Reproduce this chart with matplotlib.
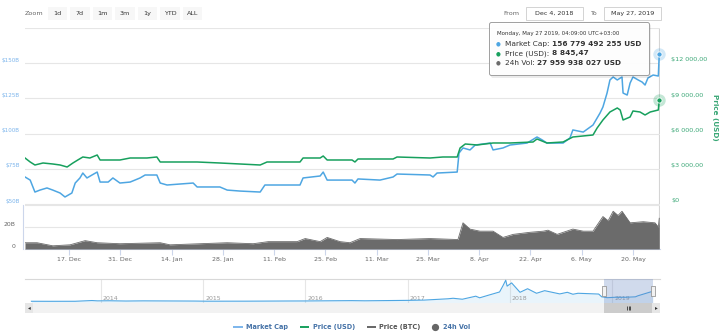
import matplotlib
matplotlib.use("Agg")
import matplotlib.pyplot as plt
import matplotlib.transforms as mtransforms
from matplotlib.patches import Rectangle, FancyBboxPatch
import pandas as pd

# market cap, billions USD
cap_dates = [
    "2018-12-05 00:00", "2018-12-06 10:00", "2018-12-07 17:00", "2018-12-09 02:00", "2018-12-11 00:00",
    "2018-12-12 14:00", "2018-12-14 14:00", "2018-12-15 22:00", "2018-12-17 19:00", "2018-12-18 17:00",
    "2018-12-20 00:00", "2018-12-20 19:00", "2018-12-21 22:00", "2018-12-23 07:00", "2018-12-24 17:00",
    "2018-12-25 12:00", "2018-12-27 17:00", "2018-12-29 00:00", "2018-12-30 22:00", "2019-01-02 17:00",
    "2019-01-05 10:00", "2019-01-06 19:00", "2019-01-10 00:00", "2019-01-10 22:00", "2019-01-12 19:00",
    "2019-01-16 07:00", "2019-01-19 22:00", "2019-01-21 00:00", "2019-01-27 05:00", "2019-01-29 05:00",
    "2019-02-01 17:00", "2019-02-07 05:00", "2019-02-08 12:00", "2019-02-18 02:00", "2019-02-18 22:00",
    "2019-02-23 14:00", "2019-02-24 10:00", "2019-02-25 12:00", "2019-03-04 07:00", "2019-03-05 02:00",
    "2019-03-05 22:00", "2019-03-11 22:00", "2019-03-15 12:00", "2019-03-16 14:00", "2019-03-25 14:00",
    "2019-03-26 10:00", "2019-03-27 12:00", "2019-04-02 00:00", "2019-04-02 12:00", "2019-04-03 14:00",
    "2019-04-05 12:00", "2019-04-06 22:00", "2019-04-11 00:00", "2019-04-11 19:00", "2019-04-14 12:00",
    "2019-04-16 10:00", "2019-04-21 02:00", "2019-04-23 19:00", "2019-04-25 05:00", "2019-04-26 12:00",
    "2019-04-30 22:00", "2019-05-02 19:00", "2019-05-03 14:00", "2019-05-06 10:00", "2019-05-09 02:00",
    "2019-05-11 00:00", "2019-05-11 19:00", "2019-05-12 22:00", "2019-05-13 17:00", "2019-05-14 14:00",
    "2019-05-15 17:00", "2019-05-17 00:00", "2019-05-17 07:00", "2019-05-18 10:00", "2019-05-19 05:00",
    "2019-05-20 00:00", "2019-05-21 10:00", "2019-05-22 12:00", "2019-05-23 07:00", "2019-05-24 02:00",
    "2019-05-25 12:00", "2019-05-26 22:00", "2019-05-27 04:09",
]
cap_values = [
    69.2, 67.0, 58.5, 59.9, 61.4, 59.9, 57.8, 55.0, 57.8, 64.9,
    68.5, 72.0, 68.5, 70.6, 72.7, 65.6, 65.6, 68.5, 64.9, 65.6,
    68.5, 70.6, 70.6, 64.9, 63.5, 64.2, 64.9, 62.1, 62.1, 59.9,
    59.2, 58.5, 63.5, 63.5, 68.5, 69.9, 72.7, 67.0, 67.0, 64.9,
    67.8, 67.0, 69.2, 71.3, 70.6, 69.2, 72.0, 72.7, 86.2, 89.8,
    88.4, 91.9, 93.3, 88.4, 89.8, 91.9, 93.3, 97.6, 95.5, 93.3,
    93.3, 96.9, 102.6, 101.1, 106.1, 114.6, 118.9, 128.8, 138.1, 140.2,
    138.1, 140.2, 128.8, 127.4, 135.9, 140.2, 138.1, 136.6, 134.5, 139.5,
    141.6, 140.9, 156.78,
]

# price, USD
price_dates = [
    "2018-12-05 00:00", "2018-12-06 10:00", "2018-12-07 17:00", "2018-12-09 22:00", "2018-12-12 14:00",
    "2018-12-14 14:00", "2018-12-16 12:00", "2018-12-18 02:00", "2018-12-19 10:00", "2018-12-20 19:00",
    "2018-12-22 17:00", "2018-12-24 17:00", "2018-12-25 12:00", "2018-12-29 00:00", "2018-12-30 22:00",
    "2019-01-02 17:00", "2019-01-07 07:00", "2019-01-10 00:00", "2019-01-10 22:00", "2019-01-16 07:00",
    "2019-01-21 00:00", "2019-01-27 05:00", "2019-02-01 17:00", "2019-02-07 05:00", "2019-02-09 02:00",
    "2019-02-18 02:00", "2019-02-18 22:00", "2019-02-23 14:00", "2019-02-24 10:00", "2019-02-25 12:00",
    "2019-03-04 07:00", "2019-03-05 02:00", "2019-03-05 22:00", "2019-03-15 12:00", "2019-03-16 14:00",
    "2019-03-25 14:00", "2019-03-29 02:00", "2019-04-02 00:00", "2019-04-02 19:00", "2019-04-04 05:00",
    "2019-04-07 10:00", "2019-04-11 19:00", "2019-04-16 10:00", "2019-04-22 17:00", "2019-04-23 19:00",
    "2019-04-26 12:00", "2019-04-30 22:00", "2019-05-03 14:00", "2019-05-09 02:00", "2019-05-10 05:00",
    "2019-05-11 19:00", "2019-05-13 17:00", "2019-05-15 17:00", "2019-05-16 12:00", "2019-05-17 07:00",
    "2019-05-19 05:00", "2019-05-20 00:00", "2019-05-21 22:00", "2019-05-23 07:00", "2019-05-24 17:00",
    "2019-05-26 22:00", "2019-05-27 04:09",
]
price_values = [
    3910, 3570, 3315, 3485, 3400, 3315, 3145, 3485, 3740, 3995,
    3910, 4165, 3740, 3740, 3740, 3910, 3910, 3995, 3570, 3570,
    3570, 3485, 3400, 3315, 3570, 3570, 3910, 3910, 4080, 3740,
    3740, 3570, 3825, 3825, 3995, 3910, 3995, 3995, 4760, 5100,
    5015, 5185, 5185, 5270, 5525, 5185, 5270, 5695, 5865, 6460,
    7140, 7820, 8160, 7990, 7140, 7395, 7905, 7820, 7565, 7820,
    7990, 8845.47,
]

# 24h volume, billions USD
vol_dates = [
    "2018-12-05 00:00", "2018-12-08 07:00", "2018-12-12 14:00", "2018-12-17 07:00", "2018-12-21 10:00",
    "2018-12-24 17:00", "2018-12-30 22:00", "2019-01-10 22:00", "2019-01-13 14:00", "2019-01-29 05:00",
    "2019-02-05 07:00", "2019-02-09 10:00", "2019-02-17 07:00", "2019-02-19 12:00", "2019-02-23 14:00",
    "2019-02-25 12:00", "2019-03-01 00:00", "2019-03-03 17:00", "2019-03-06 12:00", "2019-03-16 14:00",
    "2019-03-25 14:00", "2019-04-02 05:00", "2019-04-03 14:00", "2019-04-05 12:00", "2019-04-08 05:00",
    "2019-04-11 19:00", "2019-04-14 12:00", "2019-04-17 07:00", "2019-04-21 22:00", "2019-04-25 12:00",
    "2019-04-26 19:00", "2019-04-29 07:00", "2019-05-03 14:00", "2019-05-06 10:00", "2019-05-09 02:00",
    "2019-05-11 19:00", "2019-05-13 05:00", "2019-05-14 14:00", "2019-05-15 22:00", "2019-05-17 00:00",
    "2019-05-19 05:00", "2019-05-22 19:00", "2019-05-26 00:00", "2019-05-26 22:00", "2019-05-27 04:09",
]
vol_values = [
    5.7, 5.7, 2.9, 3.8, 7.6, 5.7, 4.8, 5.7, 3.8, 5.7,
    4.8, 6.7, 6.7, 9.5, 6.7, 10.5, 6.7, 5.7, 9.5, 8.6,
    9.5, 8.6, 23.8, 18.1, 16.2, 16.2, 10.5, 13.3, 15.2, 16.2,
    17.1, 13.3, 18.1, 16.2, 16.2, 29.5, 25.7, 34.3, 30.5, 34.3,
    23.8, 24.8, 23.8, 20.0, 27.96,
]

# all-time market cap for the navigator, billions USD
nav_dates = [
    "2013-04-28", "2013-07-01", "2013-10-01", "2013-11-30", "2013-12-20", "2014-02-01", "2014-04-01",
    "2014-06-01", "2014-09-01", "2014-12-01", "2015-01-15", "2015-06-01", "2015-11-05", "2016-01-01",
    "2016-06-15", "2016-08-01", "2016-12-31", "2017-03-01", "2017-05-25", "2017-06-12", "2017-07-15",
    "2017-09-01", "2017-09-15", "2017-10-20", "2017-11-25", "2017-12-07", "2017-12-17", "2017-12-22",
    "2018-01-07", "2018-02-06", "2018-03-05", "2018-04-06", "2018-05-05", "2018-06-28", "2018-07-25",
    "2018-08-14", "2018-09-01", "2018-10-15", "2018-11-14", "2018-11-25", "2018-12-15", "2019-01-10",
    "2019-02-15", "2019-03-25", "2019-04-03", "2019-05-14", "2019-05-27",
]
nav_values = [
    1.5, 1.0, 1.6, 13.0, 8.0, 9.5, 5.5, 8.0, 6.5, 5.0, 2.8, 3.2, 6.0, 6.5,
    11.5, 9.0, 15.5, 20, 40, 48, 33, 80, 55, 100, 145, 240, 326, 235,
    285, 140, 195, 125, 165, 115, 140, 110, 125, 118, 113, 70, 57, 63,
    63, 70, 86, 140, 157,
]

cap_ticks = [50, 75, 100, 125, 150]
price_ticks = [0, 3000, 6000, 9000, 12000]
price_tick_labels = ["$0", "$3 000,00", "$6 000,00", "$9 000,00", "$12 000,00"]
range_buttons = ["1d", "7d", "1m", "3m", "1y", "YTD", "ALL"]
legend_labels = ["Market Cap", "Price (USD)", "Price (BTC)", "24h Vol"]

BLUE = "#4ea6e2"
BLUE_LBL = "#7cb5ec"
GREEN = "#17a05d"
GREEN_LBL = "#3aa776"
VOL = "#6b6b6b"
GRID = "#e6e6e6"
AXIS = "#ccd6eb"
TXT = "#666666"
LEG = "#4572a7"

W, H = 720, 333
fig = plt.figure(figsize=(7.2, 3.33), dpi=100)


def box(l, t, r, b):
    return [l / W, 1 - b / H, (r - l) / W, (b - t) / H]


def shift(dx, dy):
    return mtransforms.ScaledTranslation(dx / 100, dy / 100, fig.dpi_scale_trans)


cap_dt = pd.to_datetime(cap_dates)
price_dt = pd.to_datetime(price_dates)
vol_dt = pd.to_datetime(vol_dates)
nav_dt = pd.to_datetime(nav_dates)
x0, x1 = pd.Timestamp("2018-12-05 00:00"), pd.Timestamp("2019-05-27 09:00")
last = cap_dt[-1]

# main pane: market cap on the left, price on the right
ax = fig.add_axes(box(25, 28, 660, 205))
ax.set_xlim(x0, x1)
ax.set_ylim(49.3, 175)
ax.set_yticks(cap_ticks + [175])
ax.set_yticklabels([])
ax.set_xticks([])
ax.tick_params(length=0)
ax.grid(axis="y", color=GRID, lw=0.8)
for s in ax.spines.values():
    s.set_visible(False)
ax.plot(cap_dt, cap_values, color=BLUE, lw=1.1, zorder=3)
ax.axvline(last, color="#d5d5d5", lw=0.8, zorder=1)
for v in cap_ticks:
    ax.text(0, v, f"${v}B", transform=ax.get_yaxis_transform() + shift(-5, 3),
            ha="right", va="center", fontsize=4.1, color=BLUE_LBL)

ax2 = ax.twinx()
ax2.set_ylim(-85, 14958)
ax2.set_yticks([])
for s in ax2.spines.values():
    s.set_visible(False)
ax2.plot(price_dt, price_values, color=GREEN, lw=1.1, zorder=3)
for v, lbl in zip(price_ticks, price_tick_labels):
    ax2.text(1, v, lbl, transform=ax2.get_yaxis_transform() + shift(11, 3),
             ha="left", va="center", fontsize=4.6, color=GREEN_LBL)

# hover markers at the last point
ax.scatter([last], [cap_values[-1]], s=80, color=BLUE, alpha=0.25, lw=0, clip_on=False, zorder=5)
ax.scatter([last], [cap_values[-1]], s=14, color=BLUE, edgecolor="white", lw=0.6, clip_on=False, zorder=6)
ax2.scatter([last], [price_values[-1]], s=80, color=GREEN, alpha=0.25, lw=0, clip_on=False, zorder=5)
ax2.scatter([last], [price_values[-1]], s=14, color=GREEN, edgecolor="white", lw=0.6, clip_on=False, zorder=6)

# volume pane
vax = fig.add_axes(box(25, 205, 660, 249))
vax.set_xlim(x0, x1)
vax.set_ylim(0, 40)
vax.fill_between(vol_dt, vol_values, 0, color=VOL, lw=0, zorder=3)
vax.plot(vol_dt, vol_values, color=VOL, lw=0.6, zorder=3)
vax.axvline(last, color="#d5d5d5", lw=0.8, zorder=1)
vax.set_yticks([20, 40])
vax.set_yticklabels([])
vax.grid(axis="y", color=GRID, lw=0.8)
vax.tick_params(axis="y", length=0)
for v, lbl in [(0, "0"), (20, "20B")]:
    vax.text(0, v, lbl, transform=vax.get_yaxis_transform() + shift(-10, 3),
             ha="right", va="center", fontsize=4.4, color=TXT)
tick_dates = pd.date_range("2018-12-17", "2019-05-20", freq="14D")
vax.set_xticks(tick_dates)
vax.set_xticklabels([f"{d.day}. {d:%b}" for d in tick_dates])
vax.tick_params(axis="x", length=4, width=0.8, color=AXIS, labelsize=4.5,
                labelcolor=TXT, pad=2)
vax.spines["top"].set_visible(False)
vax.spines["right"].set_visible(False)
vax.spines["bottom"].set_color(AXIS)
vax.spines["left"].set_color(AXIS)
vax.spines["left"].set_position(("outward", 1.5))

# navigator
nx0, nx1 = pd.Timestamp("2013-04-05"), pd.Timestamp("2019-06-21")
sel0 = pd.Timestamp("2018-12-04")
nax = fig.add_axes(box(25, 279, 660, 303))
nax.set_xlim(nx0, nx1)
nax.set_ylim(-25, 345)
nax.set_xticks([])
nax.set_yticks([])
for k, s in nax.spines.items():
    s.set_visible(k == "top")
nax.spines["top"].set_color("#d8d8d8")
for yr in range(2014, 2020):
    d = pd.Timestamp(f"{yr}-01-01")
    nax.axvline(d, color=GRID, lw=0.8, zorder=1)
    nax.text(d, 0, str(yr), transform=mtransforms.blended_transform_factory(nax.transData, nax.transAxes) + shift(2, 2),
             ha="left", va="bottom", fontsize=4.5, color="#999999")
nax.fill_between(nav_dt, nav_values, -25, color=BLUE, alpha=0.12, lw=0, zorder=2)
nax.plot(nav_dt, nav_values, color=BLUE, lw=0.8, zorder=3)
nax.axvspan(sel0, last, color="#6685c2", alpha=0.3, lw=0, zorder=4)
handle = [(-0.55, -1), (0.55, -1), (0.55, 1), (-0.55, 1), (-0.55, -1)]
ntrans = mtransforms.blended_transform_factory(nax.transData, nax.transAxes)
nax.plot([sel0, last], [0.5, 0.5], ls="none", marker=handle, ms=6.5, mfc="#f2f2f2",
         mec="#999999", mew=0.6, transform=ntrans, clip_on=False, zorder=6)

# scrollbar
sax = fig.add_axes(box(25, 303, 660, 313))
sax.set_xlim(nx0, nx1)
sax.set_ylim(0, 1)
sax.axis("off")
sax.add_patch(Rectangle((0, 0), 1, 1, transform=sax.transAxes, color="#f2f2f2", lw=0))
sax.axvspan(sel0, last, color="#cccccc", lw=0)
bw = 8 / 635
sax.add_patch(Rectangle((0, 0), bw, 1, transform=sax.transAxes, color="#e6e6e6", lw=0))
sax.add_patch(Rectangle((1 - bw, 0), bw, 1, transform=sax.transAxes, color="#e6e6e6", lw=0))
sax.text(bw / 2, 0.5, "◂", transform=sax.transAxes, ha="center", va="center", fontsize=4, color="#333333")
sax.text(1 - bw / 2, 0.5, "▸", transform=sax.transAxes, ha="center", va="center", fontsize=4, color="#333333")
mid = sel0 + (last - sel0) / 2
for dx in (-1.5, 0, 1.5):
    sax.plot([mid], [0.5], marker="|", ms=3, mew=0.6, color="#333333",
             transform=sax.transData + shift(dx, 0))

# overlay for controls, tooltip and legend
oax = fig.add_axes([0, 0, 1, 1], zorder=10)
oax.set_xlim(0, W)
oax.set_ylim(H, 0)
oax.axis("off")
oax.patch.set_visible(False)

oax.text(25, 13.5, "Zoom", ha="left", va="center", fontsize=4.6, color=TXT)
spans = [(48, 67), (70, 90), (93, 112), (115, 135), (138, 157), (160, 180), (183, 202)]
for lbl, (l, r) in zip(range_buttons, spans):
    oax.add_patch(Rectangle((l, 7), r - l, 13, color="#f7f7f7", lw=0))
    oax.text((l + r) / 2, 13.5, lbl, ha="center", va="center", fontsize=4.6, color="#333333")

oax.text(503, 13.5, "From", ha="left", va="center", fontsize=4.6, color=TXT)
oax.text(590, 13.5, "To", ha="left", va="center", fontsize=4.6, color=TXT)
for (l, r), lbl in [((526, 583), "Dec 4, 2018"), ((604, 661), "May 27, 2019")]:
    oax.add_patch(Rectangle((l, 7), r - l, 13, fc="white", ec="#cccccc", lw=0.6))
    oax.text((l + r) / 2, 13.5, lbl, ha="center", va="center", fontsize=4.6, color="#333333")

# tooltip
oax.add_patch(FancyBboxPatch((491, 24), 160, 54, boxstyle="round,pad=0,rounding_size=2",
                             fc="#000000", alpha=0.08, lw=0))
oax.add_patch(FancyBboxPatch((489.5, 22.5), 160, 53, boxstyle="round,pad=0,rounding_size=2",
                             fc="white", ec="#9a9a9a", lw=0.7, alpha=0.95))
oax.text(497, 34, "Monday, May 27 2019, 04:09:00 UTC+03:00", ha="left", va="center",
         fontsize=4.0, color="#333333")
tip_rows = [
    (BLUE, "Market Cap: ", "156 779 492 255 USD"),
    (GREEN, "Price (USD): ", f"{price_values[-1]:,.2f}".replace(",", " ").replace(".", ",")),
    (VOL, "24h Vol: ", "27 959 938 027 USD"),
]
for i, (c, name, val) in enumerate(tip_rows):
    y = 44 + i * 9.5
    oax.text(498.5, y, "●", ha="center", va="center", fontsize=4.0, color=c)
    t = oax.text(505, y, name, ha="left", va="center", fontsize=5.3, color="#333333")
    oax.annotate(val, xy=(1, 0.5), xycoords=t, ha="left", va="center",
                 fontsize=5.3, fontweight="bold", color="#333333")

# legend
ly = 327
oax.plot([233, 243], [ly, ly], color=BLUE_LBL, lw=1.4, solid_capstyle="butt")
oax.text(246, ly, legend_labels[0], ha="left", va="center", fontsize=4.7, fontweight="bold", color=LEG)
oax.plot([300, 309], [ly, ly], color=GREEN, lw=1.4, solid_capstyle="butt")
oax.text(313, ly, legend_labels[1], ha="left", va="center", fontsize=4.7, fontweight="bold", color=LEG)
oax.plot([367, 376], [ly, ly], color="#666666", lw=1.4, solid_capstyle="butt")
oax.text(379, ly, legend_labels[2], ha="left", va="center", fontsize=4.7, fontweight="bold", color="#555555")
oax.plot([435], [ly], marker="o", ms=4.2, color="#666666")
oax.text(443, ly, legend_labels[3], ha="left", va="center", fontsize=4.7, fontweight="bold", color=LEG)

# right axis title
oax.text(715, 117, "Price (USD)", rotation=270, ha="center", va="center",
         fontsize=5.2, fontweight="bold", color=GREEN_LBL)

fig.savefig("out.png", dpi=100)
